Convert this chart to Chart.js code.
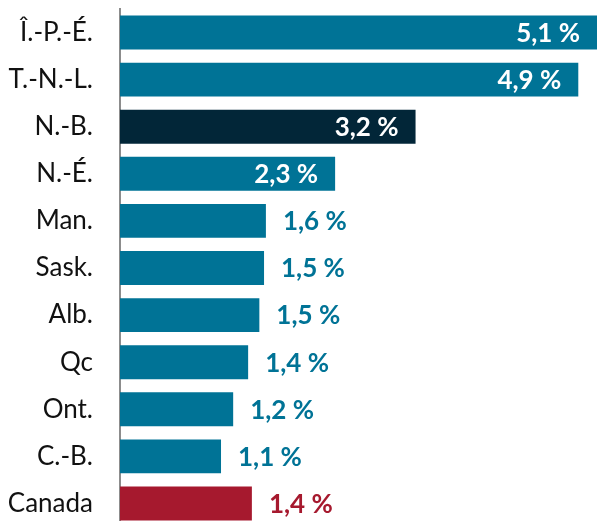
<!DOCTYPE html>
<html>
<head>
<meta charset="utf-8">
<script src="https://cdn.jsdelivr.net/npm/chart.js@4.4.1/dist/chart.umd.min.js"></script>
<style>
html,body{margin:0;padding:0;background:#fff;overflow:hidden;}
#wrap{width:597px;height:527px;position:relative;}
</style>
</head>
<body>
<div id="wrap"><canvas id="c" width="597" height="527"></canvas></div>
<script>
const categories = ["Î.-P.-É.", "T.-N.-L.", "N.-B.", "N.-É.", "Man.", "Sask.", "Alb.", "Qc", "Ont.", "C.-B.", "Canada"];
const values = [5.1, 4.9, 3.16, 2.3, 1.56, 1.54, 1.49, 1.37, 1.21, 1.08, 1.41];
const valueLabels = ["5,1 %", "4,9 %", "3,2 %", "2,3 %", "1,6 %", "1,5 %", "1,5 %", "1,4 %", "1,2 %", "1,1 %", "1,4 %"];
const TEAL = "#007396", NAVY = "#022638", RED = "#A6192E";
const barColors = categories.map((c, i) => i === 2 ? NAVY : (c === "Canada" ? RED : TEAL));
const FONT = "Lato, 'Open Sans', sans-serif";

const labelPlugin = {
  id: "valueLabels",
  afterDatasetsDraw(chart) {
    const ctx = chart.ctx;
    const meta = chart.getDatasetMeta(0);
    ctx.save();
    ctx.font = "bold 26px " + FONT;
    ctx.textBaseline = "middle";
    meta.data.forEach((bar, i) => {
      const inside = values[i] > 2;
      if (inside) {
        ctx.fillStyle = "#ffffff";
        ctx.textAlign = "right";
        ctx.fillText(valueLabels[i], bar.x - 17, bar.y + 1);
      } else {
        ctx.fillStyle = barColors[i];
        ctx.textAlign = "left";
        ctx.fillText(valueLabels[i], bar.x + 17, bar.y + 1);
      }
    });
    ctx.restore();
  }
};

new Chart(document.getElementById("c"), {
  type: "bar",
  data: {
    labels: categories,
    datasets: [{
      data: values,
      backgroundColor: barColors,
      borderWidth: 0,
      barPercentage: 0.72,
      categoryPercentage: 1
    }]
  },
  options: {
    indexAxis: "y",
    responsive: false,
    animation: false,
    layout: { padding: { top: 9, right: 0, bottom: 0, left: 0 } },
    plugins: { legend: { display: false }, tooltip: { enabled: false } },
    scales: {
      x: { display: false, min: 0, max: 5.1 },
      y: {
        afterFit(scale) { scale.width = 120; scale.paddingTop = 0; scale.paddingBottom = 0; },
        grid: { display: false, drawTicks: false },
        border: { display: true, color: "#8c8c8c", width: 2 },
        ticks: { color: "#111111", font: { family: FONT, size: 26 }, padding: 27 }
      }
    }
  },
  plugins: [labelPlugin]
});
</script>
</body>
</html>
